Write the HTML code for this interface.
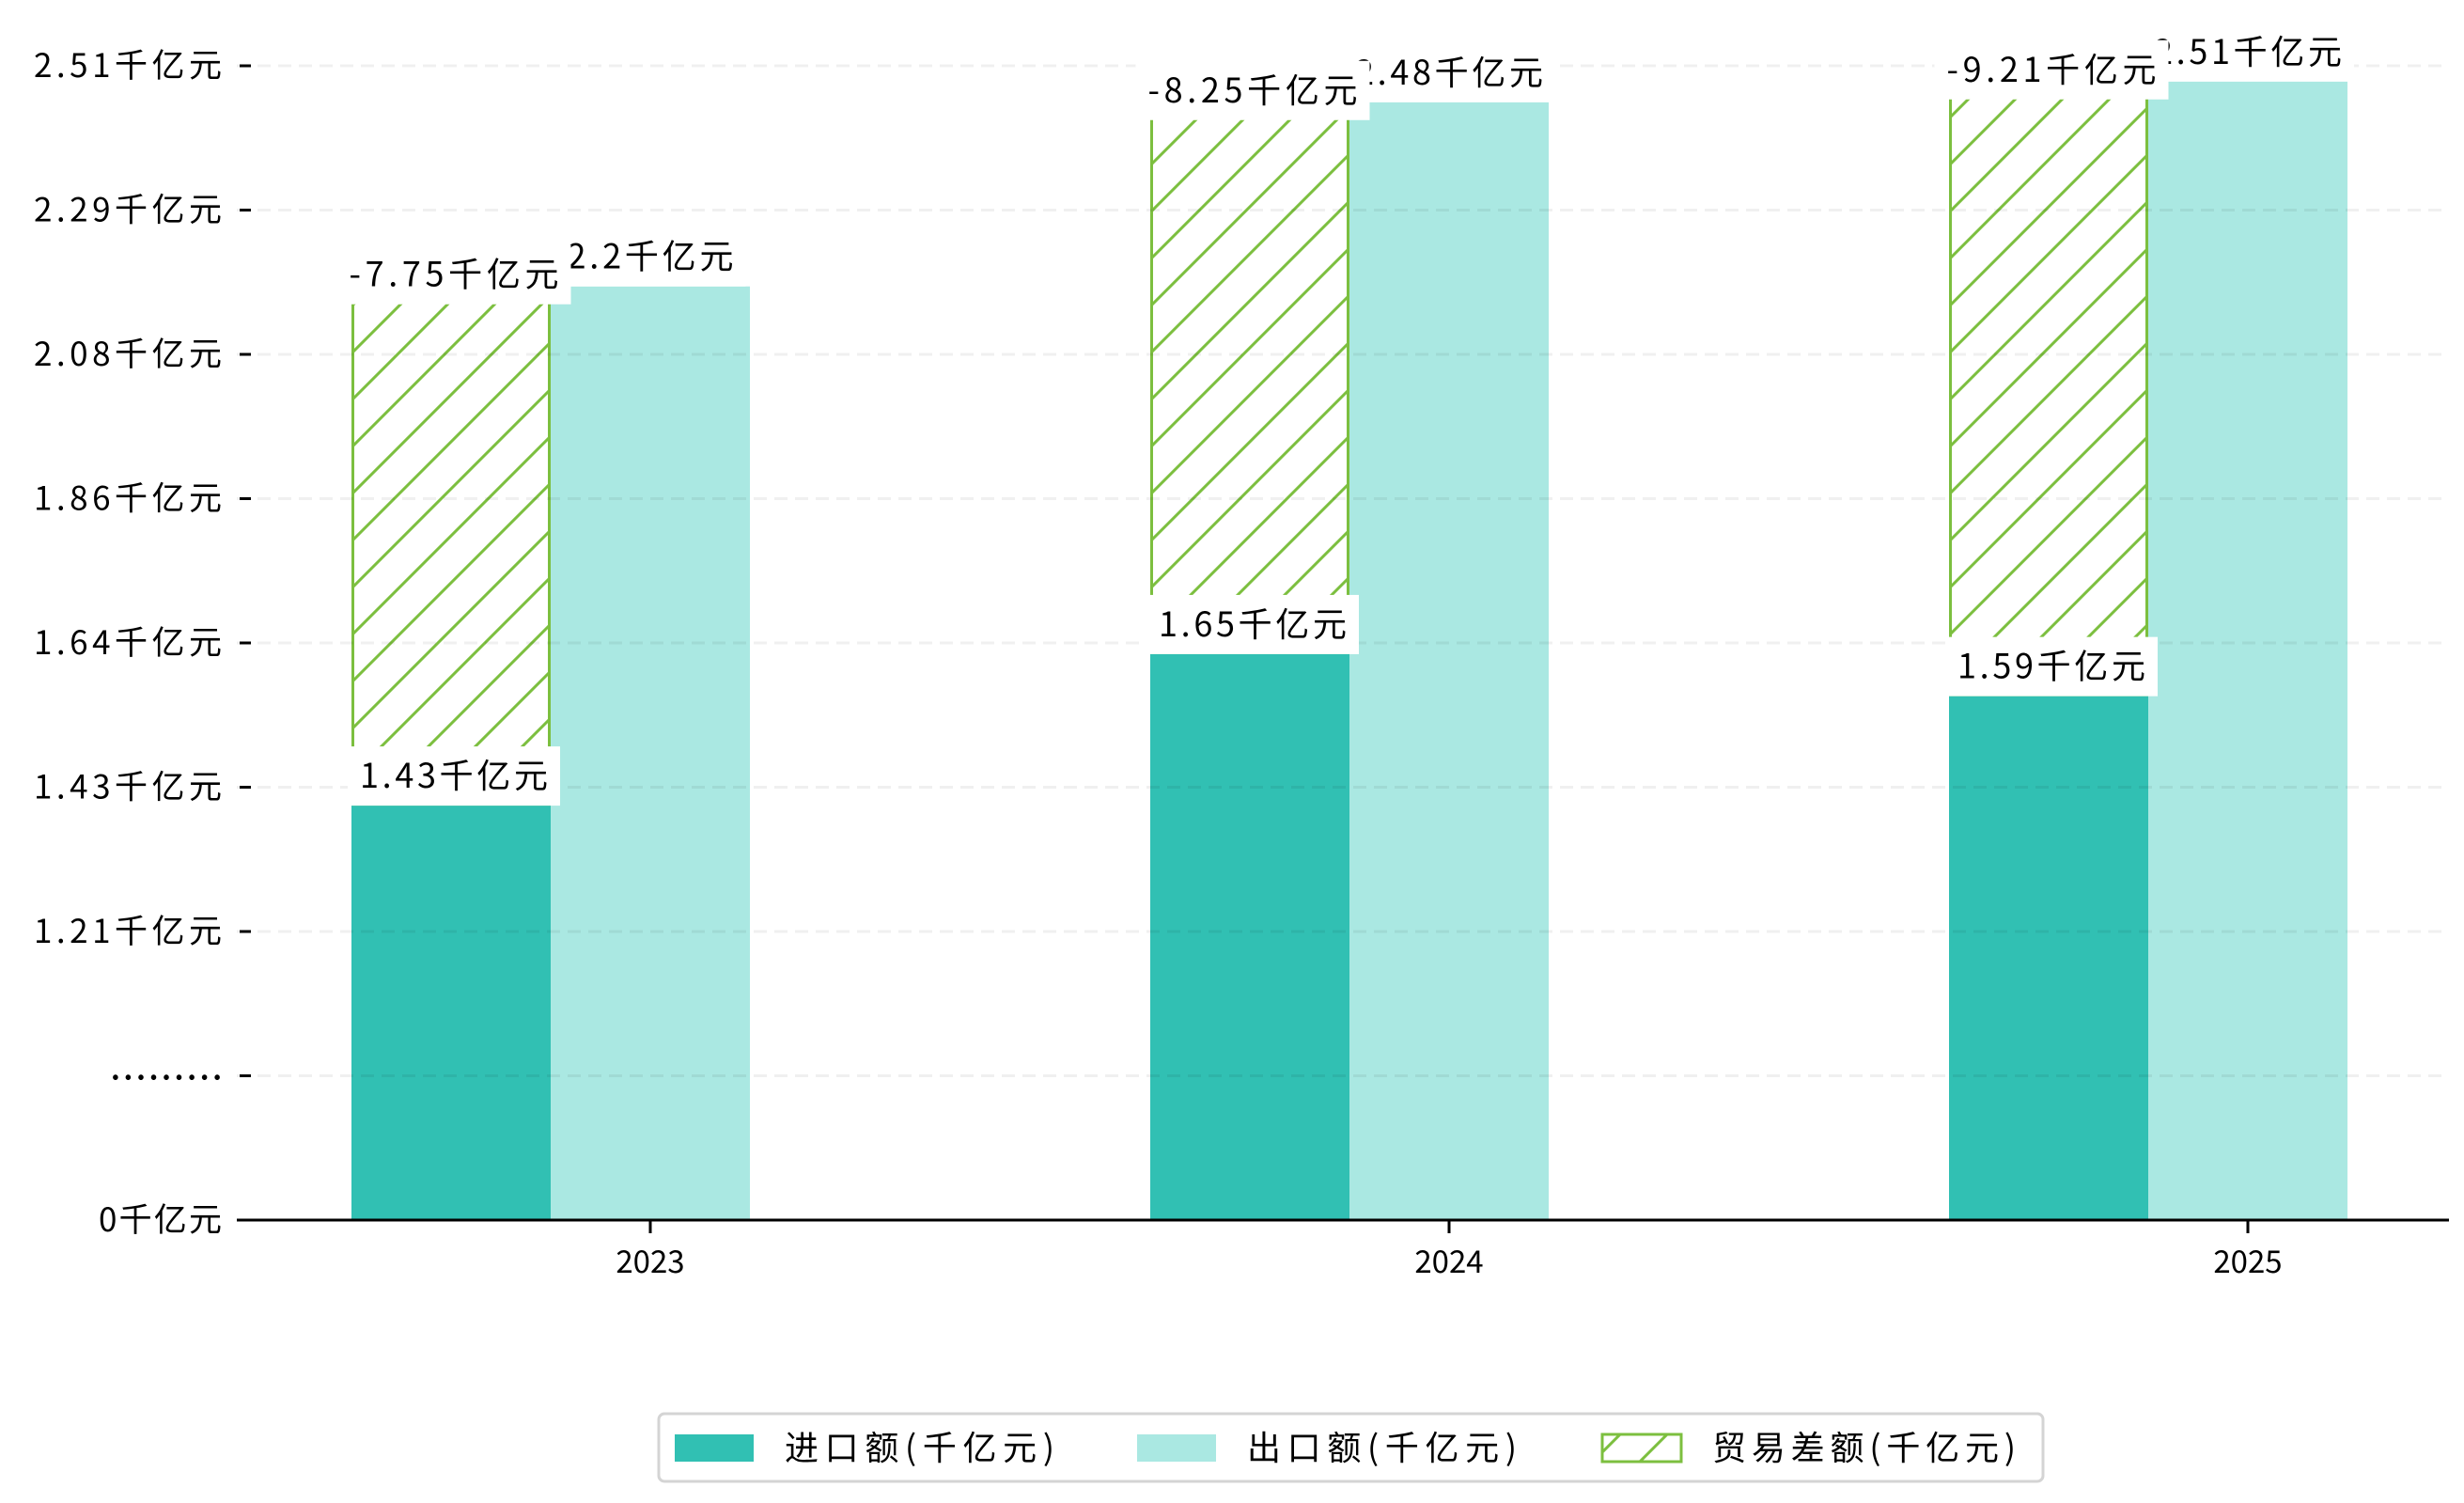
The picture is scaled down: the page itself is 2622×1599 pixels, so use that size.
<!DOCTYPE html>
<html><head><meta charset="utf-8">
<style>
html,body{margin:0;padding:0;background:#fff;}
svg{display:block;font-family:"WenQuanYi Zen Hei","Noto Sans CJK SC",sans-serif;}
</style></head>
<body>
<svg id="chart" width="2622" height="1599" viewBox="0 0 2622 1599" xmlns="http://www.w3.org/2000/svg">
<defs>
<pattern id="hatch" patternUnits="userSpaceOnUse" width="50" height="50">
<line x1="-10" y1="60" x2="60" y2="-10" stroke="#7cbf3f" stroke-width="3"/>
<line x1="-10" y1="10" x2="10" y2="-10" stroke="#7cbf3f" stroke-width="3"/>
<line x1="40" y1="60" x2="60" y2="40" stroke="#7cbf3f" stroke-width="3"/>
</pattern>
</defs>
<g id="bars"></g>
<g id="grid"></g>
<g id="axes"></g>
<g id="labels"></g>
<g id="legend"></g>
</svg>
<script>
const categories = ["2023", "2024", "2025"];
const importValues = [1.40, 1.627, 1.564];
const exportValues = [2.178, 2.454, 2.485];
const importLabels = ["1.43千亿元", "1.65千亿元", "1.59千亿元"];
const exportLabels = ["2.2千亿元", "2.48千亿元", "2.51千亿元"];
const diffLabels = ["-7.75千亿元", "-8.25千亿元", "-9.21千亿元"];
const yTickLabels = ["0千亿元", ".........", "1.21千亿元", "1.43千亿元", "1.64千亿元", "1.86千亿元", "2.08千亿元", "2.29千亿元", "2.51千亿元"];
const yTickValues = [0, 1.0, 1.21, 1.43, 1.64, 1.86, 2.08, 2.29, 2.51];

const NS = "http://www.w3.org/2000/svg";
const y0 = 1298, yA = 992, pxPerUnit = 710;
function yScale(v){ return v >= 1.0 ? yA - (v - 1.21) * pxPerUnit : y0 - v * (y0 - 1145); }
function yTickPos(i){ return y0 - i * 153.5; }
function xScale(i){ return 692 + i * 850; }
const barW = 212;
function mk(tag, attrs, parent){ const e = document.createElementNS(NS, tag); for (const k in attrs) e.setAttribute(k, attrs[k]); parent.appendChild(e); return e; }
function estW(s){ let w = 0; for (const ch of s) w += ch.charCodeAt(0) > 255 ? 36 : 23; return w; }

const bars = document.getElementById('bars'), grid = document.getElementById('grid'), axes = document.getElementById('axes'), labels = document.getElementById('labels'), legend = document.getElementById('legend');

yTickLabels.forEach((t, i) => {
  const y = yTickPos(i);
  if (i > 0) {
    const g = mk('line', {x1: 252, x2: 2606, y1: y, y2: y, stroke: 'rgba(0,0,0,0.06)', 'stroke-width': 3, 'stroke-dasharray': '14,8'}, grid);
    
    
  }
  const tk = mk('line', {x1: 255, x2: 267, y1: y, y2: y, stroke: '#000', 'stroke-width': 3}, axes);
  
  
  const isDots = t.startsWith('.');
  const w = isDots ? 118 : estW(t);
  const tx = mk('text', {x: 236 - w, y: isDots ? y + 4 : y + 12, 'font-size': isDots ? 30 : 35, fill: '#000', textLength: w, lengthAdjust: 'spacing', 'font-weight': isDots ? 'bold' : 'normal'}, axes);
  tx.textContent = t;
  
  
});

categories.forEach((c, i) => {
  const cx = xScale(i);
  const xi = cx - 318, xe = cx - 106;
  const yi = yScale(importValues[i]), ye = yScale(exportValues[i]);
  const d = mk('rect', {x: xi + 1.5, y: ye, width: barW - 3, height: yi - ye, fill: 'url(#hatch)', stroke: '#7cbf3f', 'stroke-width': 3}, bars);
  
  
  const b1 = mk('rect', {x: xi, y: yi, width: barW, height: y0 - yi, fill: '#31c0b3'}, bars);
  
  
  const b2 = mk('rect', {x: xe, y: ye, width: barW, height: y0 - ye, fill: '#aae8e2'}, bars);
  
  

  function lab(text, cxp, bottom, name){
    const g = mk('g', {}, labels);
    
    
    const tw = estW(text);
    const w = tw + 26;
    mk('rect', {x: cxp - w / 2, y: bottom - 63, width: w, height: 63, fill: '#fff'}, g);
    const t = mk('text', {x: cxp - tw / 2, y: bottom - 19, 'font-size': 36, fill: '#000', textLength: tw, lengthAdjust: 'spacing'}, g);
    t.textContent = text;
  }
  lab(exportLabels[i], xe + barW / 2, ye, 'export-value-label');
  lab(importLabels[i], xi + barW / 2 + 3, yi, 'import-value-label');
  lab(diffLabels[i], xi + barW / 2 + 3, ye + 19, 'trade-balance-value-label');

  const tk = mk('line', {x1: cx, x2: cx, y1: y0, y2: y0 + 14, stroke: '#000', 'stroke-width': 3}, axes);
  
  
  const tl = mk('text', {x: cx, y: y0 + 56, 'text-anchor': 'middle', 'font-size': 33, fill: '#000'}, axes);
  tl.textContent = c;
  
  
});

const ax = mk('line', {x1: 252, x2: 2606, y1: y0, y2: y0, stroke: '#000', 'stroke-width': 3}, axes);



const lb = mk('rect', {x: 701, y: 1504, width: 1473, height: 72, rx: 6, fill: '#fff', stroke: '#d4d4d4', 'stroke-width': 3}, legend);


const legItems = [["进口额(千亿元)", '#31c0b3', 718], ["出口额(千亿元)", '#aae8e2', 1210], ["贸易差额(千亿元)", 'url(#hatch)', 1705]];
legItems.forEach((it, k) => {
  const g = mk('g', {}, legend);
  
  
  const sw = mk('rect', {x: it[2], y: 1526, width: 84, height: 29, fill: it[1]}, g);
  if (k === 2) { sw.setAttribute('stroke', '#7cbf3f'); sw.setAttribute('stroke-width', 3); }
  const tw = [287, 287, 323][k];
  const t = mk('text', {x: it[2] + 117, y: 1553, 'font-size': 36, fill: '#000', textLength: tw, lengthAdjust: 'spacing'}, g);
  t.textContent = it[0];
});
</script>
</body></html>
